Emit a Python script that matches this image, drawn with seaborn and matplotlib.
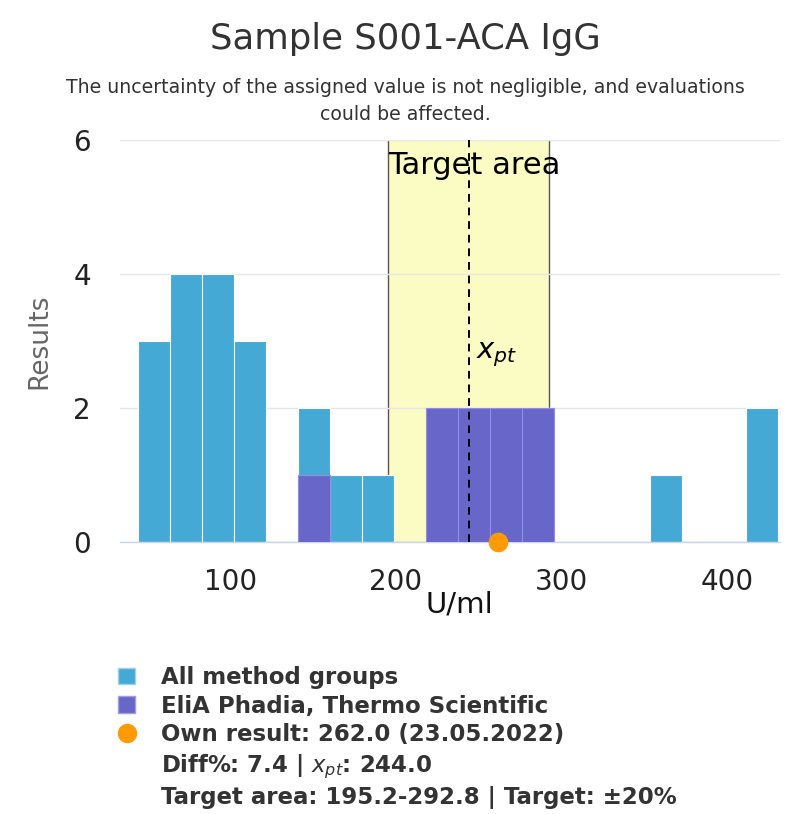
import matplotlib
matplotlib.use("Agg")
import matplotlib.pyplot as plt
import seaborn as sns
import numpy as np
from matplotlib.patches import Patch
from matplotlib.lines import Line2D

# ---- data ----
bin_lower = [44.6, 63.9, 83.2, 102.5, 121.8, 141.1, 160.4, 179.7, 199.0, 218.3,
             237.6, 256.9, 276.2, 295.5, 314.8, 334.1, 353.4, 372.7, 392.0, 411.3]
bin_width = 19.3
counts_all = [3, 4, 4, 3, 0, 2, 1, 1, 0, 2, 2, 2, 2, 0, 0, 0, 1, 0, 0, 2]
counts_elia = [0, 0, 0, 0, 0, 1, 0, 0, 0, 2, 2, 2, 2, 0, 0, 0, 0, 0, 0, 0]
x_pt = 244.0
own_result = 262.0
target_lo, target_hi = 195.2, 292.8
x_ticks = [100, 200, 300, 400]
y_ticks = [0, 2, 4, 6]

title = "Sample S001-ACA IgG"
subtitle = "The uncertainty of the assigned value is not negligible, and evaluations\ncould be affected."
legend_labels = ["All method groups", "EliA Phadia, Thermo Scientific",
                 "Own result: 262.0 (23.05.2022)",
                 r"Diff%: 7.4 | $x_{pt}$: 244.0",
                 "Target area: 195.2-292.8 | Target: ±20%"]

BLUE = "#45A9D5"
PURPLE = "#6866C9"
ORANGE = "#FF9B00"
YELLOW = "#FAFCC4"

sns.set_theme(style="white")
plt.rcParams['font.family'] = ['DejaVu Sans']
plt.rcParams['mathtext.fontset'] = 'dejavusans'

fig = plt.figure(figsize=(7.91, 8.14), dpi=100)
fig.patch.set_facecolor("white")
ax = fig.add_axes([120/791, 1-542/814, 660/791, 402/814])

centers = [b + bin_width/2 for b in bin_lower]
edges = bin_lower + [bin_lower[-1] + bin_width]

# target band
ax.axvspan(target_lo, target_hi, color=YELLOW, zorder=0.2, lw=0)
for v in (target_lo, target_hi):
    ax.axvline(v, color="#555555", lw=1, zorder=0.3)

sns.histplot(x=centers, weights=counts_all, bins=edges, color=BLUE, alpha=1,
             edgecolor="white", linewidth=0.8, ax=ax, zorder=2)
sns.histplot(x=centers, weights=counts_elia, bins=edges, color=PURPLE, alpha=1,
             edgecolor="#8f8ee0", linewidth=0.8, ax=ax, zorder=3)

ax.axvline(x_pt, color="black", lw=1.4, ls=(0, (4, 3)), zorder=5)
ax.scatter([own_result], [0], s=200, color=ORANGE, zorder=6, clip_on=False, lw=0)

ax.annotate("Target area", xy=(target_lo, 6), xytext=(0, -8), textcoords="offset points",
            ha="left", va="top", fontsize=22, color="black", zorder=7)
ax.annotate(r"$x_{pt}$", xy=(x_pt, 2.8), xytext=(5, 0), textcoords="offset points",
            ha="left", va="center", fontsize=21, color="black", zorder=7)

ax.set_xlim(33.5, 432)
ax.set_ylim(0, 6)
ax.set_xticks(x_ticks)
ax.set_yticks(y_ticks)
ax.grid(axis="y", color="#e6e6e6", lw=1)
ax.set_axisbelow(True)
for s in ("top", "right", "left"):
    ax.spines[s].set_visible(False)
ax.spines["bottom"].set_color("#ccd6eb")
ax.spines["bottom"].set_linewidth(1)
ax.tick_params(axis="x", length=10, width=1, color="#ccd6eb", labelsize=20, labelcolor="#222222", pad=9)
ax.tick_params(axis="y", length=0, labelsize=20, labelcolor="#222222", pad=21)
ax.set_xlabel("U/ml", fontsize=21, color="#111111", labelpad=-4, x=0.514)
ax.set_ylabel("Results", fontsize=19, color="#666666", labelpad=15)

fig.text(405/791, 1-39/814, title, ha="center", va="center", fontsize=25.5, color="#333333")
fig.text(405/791, 1-101/814, subtitle, ha="center", va="center", fontsize=13.6, color="#333333",
         linespacing=1.5)

handles = [Patch(facecolor=BLUE, edgecolor="#9fd0ea"),
           Patch(facecolor=PURPLE, edgecolor="#9f9ee6"),
           Line2D([], [], marker="o", ls="", color=ORANGE, markersize=13),
           Line2D([], [], alpha=0),
           Line2D([], [], alpha=0)]
leg = fig.legend(handles, legend_labels, loc="upper left", bbox_to_anchor=(118/791, 1-666/814),
                 frameon=False, prop={"weight": "bold", "size": 16.5},
                 handlelength=0.75, handleheight=0.75, handletextpad=1.13, labelspacing=0.25,
                 borderpad=0, borderaxespad=0)
for t in leg.get_texts():
    t.set_color("#333333")

fig.savefig("out.png", dpi=100)
